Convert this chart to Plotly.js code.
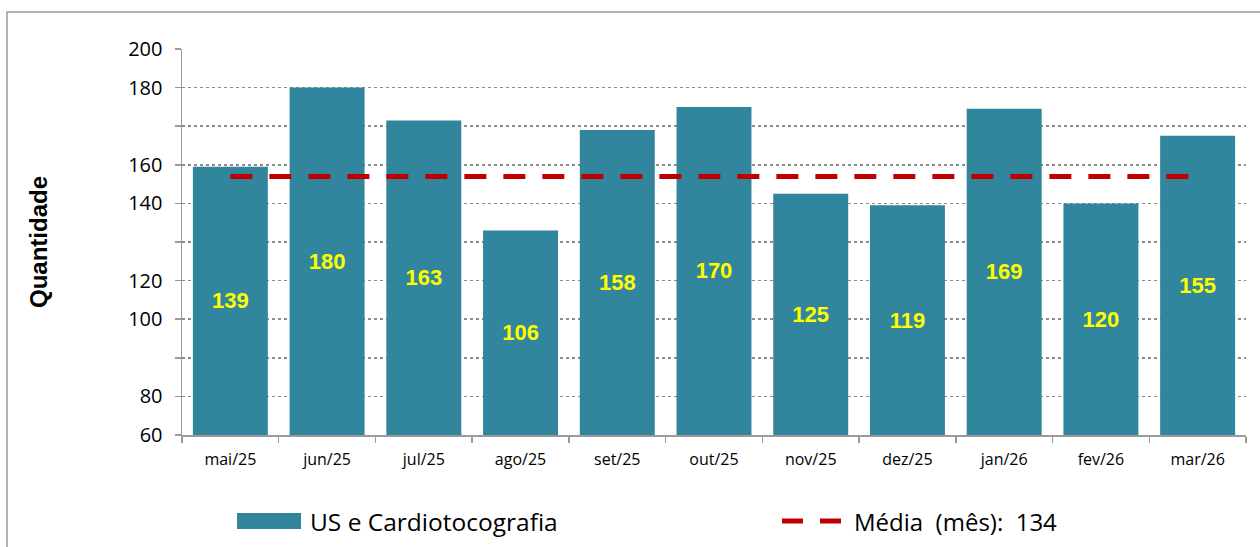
<!DOCTYPE html>
<html>
<head>
<meta charset="utf-8">
<script src="https://cdn.plot.ly/plotly-3.0.1.min.js"></script>
<style>html,body{margin:0;padding:0;background:#fff;}#chart{width:1260px;height:547px;}</style>
</head>
<body>
<div id="chart"></div>
<script>
// ---- data ----
const categorias = ["mai/25","jun/25","jul/25","ago/25","set/25","out/25","nov/25","dez/25","jan/26","fev/26","mar/26"];
const quantidades = [139, 180, 163, 106, 158, 170, 125, 119, 169, 120, 155];
const mediaMes = 134;
const yTickVals = [0, 20, 40, 60, 80, 100, 120, 140, 160, 180, 200];
const yTickText = ["60", "80", "", "100", "120", "", "140", "160", "", "180", "200"];
const serieNome = "US e Cardiotocografia";
const mediaNome = "Média\u00a0\u00a0(mês):\u00a0\u00a0" + mediaMes;

const FONT = "'Open Sans', Lato, sans-serif";
const BOLD = "'Liberation Sans', Arial, sans-serif";
const TEAL = "#31859C";
const RED = "#C00000";
const GRAY = "#9a9a9a";

const L = 182, R = 14, T = 49, B = 112, W = 1260, H = 547;
const pw = W - L - R, ph = H - T - B;
const px = v => (v - L) / pw;
const py = v => (H - B - v) / ph;

const barTrace = {
  type: "bar",
  x: categorias,
  y: quantidades,
  name: serieNome,
  marker: { color: TEAL },
  text: quantidades.map(String),
  textposition: "inside",
  insidetextanchor: "middle",
  textfont: { family: BOLD, size: 22, color: "#FFFF00", weight: "bold" },
  showlegend: false,
  hoverinfo: "x+y"
};

const mediaTrace = {
  type: "scatter",
  mode: "lines",
  x: [categorias[0], categorias[categorias.length - 1]],
  y: [mediaMes, mediaMes],
  name: mediaNome,
  line: { color: RED, width: 5, dash: "22px,17px" },
  showlegend: false
};

const layout = {
  width: W, height: H,
  margin: { l: L, r: R, t: T, b: B, pad: 0 },
  paper_bgcolor: "#fff",
  plot_bgcolor: "rgba(0,0,0,0)",
  font: { family: FONT, color: "#000" },
  bargap: 0.225,
  showlegend: false,
  xaxis: {
    type: "category",
    showgrid: false,
    showline: true, linecolor: GRAY, linewidth: 1.5,
    ticks: "outside", tickson: "boundaries", ticklen: 6, tickcolor: GRAY, tickwidth: 1.5,
    tickfont: { family: FONT, size: 16, color: "#000" },
    ticklabelstandoff: 9,
    fixedrange: true
  },
  yaxis: {
    range: [0, 200],
    tickvals: yTickVals,
    ticktext: yTickText,
    showgrid: true, gridcolor: "#8c8c8c", gridwidth: 1.5, griddash: "dot",
    showline: true, linecolor: GRAY, linewidth: 1.5,
    ticks: "outside", ticklen: 6, tickcolor: GRAY, tickwidth: 1.5,
    tickfont: { family: FONT, size: 20, color: "#000" },
    ticklabelstandoff: 8,
    zeroline: false,
    title: { text: "Quantidade", font: { family: BOLD, size: 24, color: "#000", weight: "bold" }, standoff: 74 },
    fixedrange: true
  },
  shapes: [
    { type: "rect", xref: "paper", yref: "paper", x0: px(7), x1: 1.05, y0: py(12), y1: -0.5,
      line: { color: GRAY, width: 1.5 }, fillcolor: "rgba(0,0,0,0)", layer: "below" },
    { type: "rect", xref: "paper", yref: "paper", x0: px(237), x1: px(301), y0: py(529), y1: py(513),
      line: { width: 0 }, fillcolor: TEAL },
    { type: "line", xref: "paper", yref: "paper", x0: px(782), x1: px(843), y0: py(521), y1: py(521),
      line: { color: RED, width: 5, dash: "21px,17px" } }
  ],
  annotations: [
    { xref: "paper", yref: "paper", x: px(308), y: py(521), xanchor: "left", yanchor: "middle",
      text: serieNome, showarrow: false, font: { family: FONT, size: 24.5, color: "#000" } },
    { xref: "paper", yref: "paper", x: px(852), y: py(521), xanchor: "left", yanchor: "middle",
      text: mediaNome, showarrow: false, font: { family: FONT, size: 24, color: "#000" } }
  ]
};

Plotly.newPlot("chart", [barTrace, mediaTrace], layout, { displayModeBar: false, staticPlot: true });
</script>
</body>
</html>
